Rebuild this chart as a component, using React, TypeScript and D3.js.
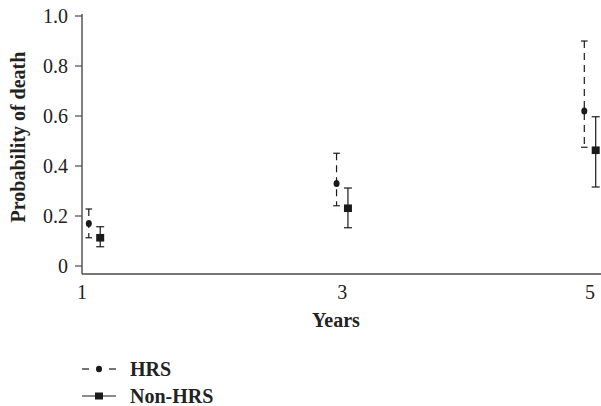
import React from "react";
import * as d3 from "d3";

// Follow-up years
const years = [1, 3, 5];

// HRS group: estimate with lower / upper confidence limits
const hrsEst = [0.17, 0.33, 0.62];
const hrsLow = [0.113, 0.241, 0.475];
const hrsHigh = [0.228, 0.451, 0.9];

// Non-HRS group
const nonEst = [0.113, 0.231, 0.463];
const nonLow = [0.077, 0.153, 0.316];
const nonHigh = [0.157, 0.312, 0.597];

const yTicks = [0, 0.2, 0.4, 0.6, 0.8, 1.0];
const yTickLabels = ["0", "0.2", "0.4", "0.6", "0.8", "1.0"];

const W = 601;
const H = 406;
const FONT = "Liberation Serif";
const axisColor = "#4a4a4a";
const ink = "#1a1a1a";
const textInk = "#222";

const txt = (size: number, bold = false): React.CSSProperties => ({
  fontFamily: FONT,
  fontSize: size,
  fontWeight: bold ? 700 : 400,
  fill: textInk,
});

export default function App() {
  const axisX = 82;
  const axisY = 274;
  const x = d3.scaleLinear().domain([1, 5]).range([94.5, 590]);
  const y = d3.scaleLinear().domain([0, 1]).range([266, 16]);
  const dodge = 5.7;

  const hrs = years.map((yr, i) => ({ yr, est: hrsEst[i], lo: hrsLow[i], hi: hrsHigh[i] }));
  const non = years.map((yr, i) => ({ yr, est: nonEst[i], lo: nonLow[i], hi: nonHigh[i] }));

  return (
    <svg
      width={W}
      height={H}
      style={{ position: "absolute", left: 0, top: 0, background: "#fff" }}
    >
      {/* axes */}
      <line x1={axisX} x2={axisX} y1={14} y2={axisY} stroke={axisColor} strokeWidth={1.4} />
      <line x1={axisX} x2={W} y1={axisY} y2={axisY} stroke={axisColor} strokeWidth={1.4} />

      {yTicks.map((t, i) => (
        <g key={t}>
          <line x1={75} x2={axisX} y1={y(t)} y2={y(t)} stroke={axisColor} strokeWidth={1.2} />
          <text x={68} y={y(t)} dy="0.33em" textAnchor="end" style={txt(20)}>
            {yTickLabels[i]}
          </text>
        </g>
      ))}

      {years.map((yr, i) => (
        <text key={yr} x={i === 0 ? axisX : x(yr)} y={299} textAnchor="middle" style={txt(20)}>
          {yr}
        </text>
      ))}

      <text x={336} y={327} textAnchor="middle" style={txt(20, true)}>
        Years
      </text>
      <text transform="translate(25, 137) rotate(-90)" textAnchor="middle" style={txt(20, true)}>
        Probability of death
      </text>

      {/* HRS: dashed intervals with round markers */}
      {hrs.map((d) => {
        const cx = x(d.yr) - dodge;
        return (
          <g key={`h${d.yr}`}>
            <line
              x1={cx}
              x2={cx}
              y1={y(d.hi)}
              y2={y(d.lo)}
              stroke={ink}
              strokeWidth={1.2}
              strokeDasharray="7,5"
            />
            <line x1={cx - 3.3} x2={cx + 3.3} y1={y(d.hi)} y2={y(d.hi)} stroke={ink} strokeWidth={1.2} />
            <line x1={cx - 3.3} x2={cx + 3.3} y1={y(d.lo)} y2={y(d.lo)} stroke={ink} strokeWidth={1.2} />
            <ellipse cx={cx} cy={y(d.est)} rx={3} ry={3.5} fill={ink} />
          </g>
        );
      })}

      {/* Non-HRS: solid intervals with square markers */}
      {non.map((d) => {
        const cx = x(d.yr) + dodge;
        return (
          <g key={`n${d.yr}`}>
            <line x1={cx} x2={cx} y1={y(d.hi)} y2={y(d.lo)} stroke={ink} strokeWidth={1.2} />
            <line x1={cx - 4} x2={cx + 4} y1={y(d.hi)} y2={y(d.hi)} stroke={ink} strokeWidth={1.2} />
            <line x1={cx - 4} x2={cx + 4} y1={y(d.lo)} y2={y(d.lo)} stroke={ink} strokeWidth={1.2} />
            <rect x={cx - 4} y={y(d.est) - 3.8} width={8} height={7.6} fill={ink} />
          </g>
        );
      })}

      {/* legend */}
      <g>
        <line x1={82} x2={89} y1={369} y2={369} stroke={ink} strokeWidth={1.2} />
        <line x1={109} x2={116} y1={369} y2={369} stroke={ink} strokeWidth={1.2} />
        <ellipse cx={99} cy={369} rx={3} ry={3.3} fill={ink} />
        <text x={130} y={376} style={txt(20, true)}>
          HRS
        </text>
        <line x1={82} x2={116} y1={396} y2={396} stroke={ink} strokeWidth={1.2} />
        <rect x={95} y={392.5} width={8} height={7} fill={ink} />
        <text x={130} y={403} style={txt(20, true)}>
          Non-HRS
        </text>
      </g>
    </svg>
  );
}
